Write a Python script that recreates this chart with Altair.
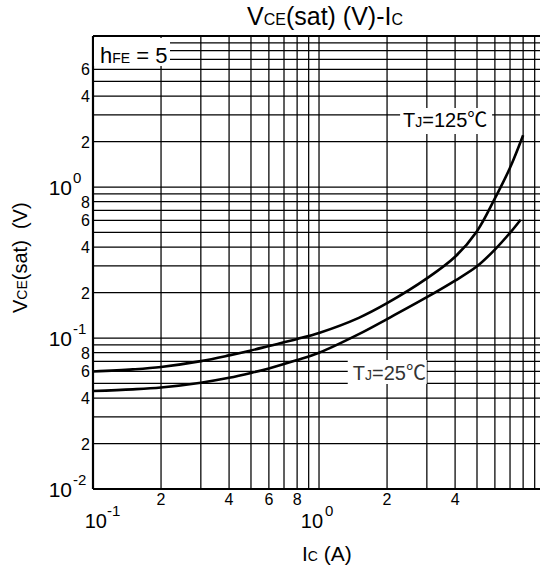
import altair as alt
import pandas as pd

# ---------------- data ----------------
ic_125 = [0.1, 0.15, 0.2, 0.3, 0.4, 0.5, 0.6, 0.8, 1.0, 1.5, 2.0, 3.0, 4.0, 5.0, 6.0, 7.0, 8.0]
vce_125 = [0.060, 0.062, 0.0643, 0.0703, 0.0767, 0.0827, 0.0885, 0.0985, 0.108, 0.136, 0.170, 0.248, 0.345, 0.51, 0.84, 1.34, 2.2]
ic_25 = [0.1, 0.15, 0.2, 0.3, 0.4, 0.5, 0.6, 0.8, 1.0, 1.5, 2.0, 3.0, 4.0, 5.0, 6.0, 7.0, 7.8]
vce_25 = [0.0446, 0.0457, 0.0470, 0.0506, 0.0545, 0.0587, 0.0629, 0.0714, 0.0798, 0.106, 0.1334, 0.1862, 0.2398, 0.2984, 0.385, 0.497, 0.607]

x_grid = [0.1, 0.2, 0.3, 0.4, 0.5, 0.6, 0.7, 0.8, 0.9, 1, 2, 3, 4, 5, 6, 7, 8, 9]
y_grid = [0.01, 0.02, 0.03, 0.04, 0.05, 0.06, 0.07, 0.08, 0.09,
          0.1, 0.2, 0.3, 0.4, 0.5, 0.6, 0.7, 0.8, 0.9,
          1, 2, 3, 4, 5, 6, 7, 8, 9]
frame_top = [10]
x_minor_labels = [0.2, 0.4, 0.6, 0.8, 2, 4]
x_minor_text = ["2", "4", "6", "8", "2", "4"]
y_minor_labels = [0.02, 0.04, 0.06, 0.08, 0.2, 0.4, 0.6, 0.8, 2, 4, 6]
y_minor_text = ["2", "4", "6", "8", "2", "4", "6", "8", "2", "4", "6"]
x_decades = [0.1, 1]
x_decade_sup = ["-1", "0"]
y_decades = [0.01, 0.1, 1]
y_decade_sup = ["-2", "-1", "0"]

label_125 = {"x": 2.355, "y": 2.5}
label_25 = {"x": 1.41, "y": 0.0527}

X_DOMAIN = [0.1, 9.5]
Y_DOMAIN = [0.01, 10]

# ---------------- styling helpers ----------------
FONT = "Liberation Sans"
CJK = "Noto Sans CJK SC"
AW = {'V': 0.667, 'C': 0.722, 'E': 0.667, '(': 0.333, ')': 0.333, 's': 0.5, 'a': 0.556,
      't': 0.278, ' ': 0.278, '-': 0.333, 'I': 0.278, 'A': 0.667, 'T': 0.611, 'J': 0.5,
      '=': 0.584, '1': 0.556, '2': 0.556, '5': 0.556, 'h': 0.556, 'F': 0.611, '0': 0.556}


def tw(s, size):
    return sum(AW.get(c, 0.556) for c in s) * size


xs = alt.Scale(type="log", domain=X_DOMAIN, nice=False)
ys = alt.Scale(type="log", domain=Y_DOMAIN, nice=False)

one = pd.DataFrame({"a": [0]})

layers = []

# grid + frame
xg = alt.Chart(pd.DataFrame({"x": x_grid})).mark_rule(color="black", strokeWidth=1.25).encode(
    x=alt.X("x:Q", scale=xs, axis=None))
yg = alt.Chart(pd.DataFrame({"y": y_grid})).mark_rule(color="black", strokeWidth=1.25).encode(
    y=alt.Y("y:Q", scale=ys, axis=None))
frame_l = alt.Chart(pd.DataFrame({"x": [X_DOMAIN[0]]})).mark_rule(color="black", strokeWidth=2.2).encode(
    x=alt.X("x:Q", scale=xs, axis=None))
frame_tb = alt.Chart(pd.DataFrame({"y": frame_top + [Y_DOMAIN[0]]})).mark_rule(color="black", strokeWidth=2.2).encode(
    y=alt.Y("y:Q", scale=ys, axis=None))
layers += [xg, yg, frame_l, frame_tb]

# curves
curves = pd.DataFrame({
    "Ic": ic_125 + ic_25,
    "Vce": vce_125 + vce_25,
    "Tj": ["125"] * len(ic_125) + ["25"] * len(ic_25),
})
line = alt.Chart(curves).mark_line(color="black", strokeWidth=2.6, interpolate="catmull-rom").encode(
    x=alt.X("Ic:Q", scale=xs, axis=None),
    y=alt.Y("Vce:Q", scale=ys, axis=None),
    detail="Tj:N")
layers.append(line)

# minor tick labels
layers.append(alt.Chart(pd.DataFrame({"x": x_minor_labels, "t": x_minor_text})).mark_text(
    font=FONT, fontSize=16, color="black", align="center", baseline="top").encode(
    x=alt.X("x:Q", scale=xs, axis=None), y=alt.value(456), text="t:N"))
layers.append(alt.Chart(pd.DataFrame({"y": y_minor_labels, "t": y_minor_text})).mark_text(
    font=FONT, fontSize=16, color="black", align="right", baseline="middle", dy=1).encode(
    y=alt.Y("y:Q", scale=ys, axis=None), x=alt.value(-3), text="t:N"))


# label boxes (data anchored)
def box(anchor, x0, x1, y0, y1):
    return alt.Chart(pd.DataFrame([anchor])).mark_rect(
        color="white", xOffset=x0, x2Offset=x1, yOffset=y0, y2Offset=y1).encode(
        x=alt.X("x:Q", scale=xs, axis=None), x2="x:Q",
        y=alt.Y("y:Q", scale=ys, axis=None), y2="y:Q")


layers.append(box(label_125, -3, 89, -19, 7))
layers.append(box(label_25, -5, 74, -20, 4))


def tj_label(anchor, value, color):
    out = []
    pieces = [("T", 20, FONT), ("J", 14, FONT), ("=" + value, 20, FONT), ("\u2103", 20, CJK)]
    dx = 0.0
    for txt, size, font in pieces:
        out.append(alt.Chart(pd.DataFrame([anchor])).mark_text(
            text=txt, font=font, fontSize=size, color=color, align="left",
            baseline="alphabetic", dx=dx).encode(
            x=alt.X("x:Q", scale=xs, axis=None), y=alt.Y("y:Q", scale=ys, axis=None)))
        dx += tw(txt, size) if font == FONT else size
    return out


layers += tj_label(label_125, "125", "black")
layers += tj_label(label_25, "25", "#333333")

# hFE annotation box
layers.append(alt.Chart(one).mark_rect(color="white").encode(
    x=alt.value(1), x2=alt.value(77), y=alt.value(2), y2=alt.value(30)))


def rich(pieces, x0, y0, angle=0, color="black"):
    """pieces: (text, size); spaces are handled as advances (SVG collapses them)."""
    out = []
    pos = x0 if angle == 0 else y0
    for txt, size in pieces:
        words = txt.split(" ")
        for i, w in enumerate(words):
            if w:
                if angle == 0:
                    enc = dict(x=alt.value(pos), y=alt.value(y0))
                else:
                    enc = dict(x=alt.value(x0), y=alt.value(pos))
                out.append(alt.Chart(one).mark_text(
                    text=w, font=FONT, fontSize=size, color=color, align="left",
                    baseline="alphabetic", angle=angle).encode(**enc))
            adv = tw(w, size) + (tw(" ", size) if i < len(words) - 1 else 0)
            pos = pos + adv if angle == 0 else pos - adv
    return out


layers += rich([("h", 22), ("FE", 14), (" = 5", 22)], 7, 27)
# title
layers += rich([("V", 25), ("CE", 16), ("(sat) (V)-I", 25), ("C", 16)], 154, -11)
# x title
layers += rich([("I", 21), ("C", 14), (" (A)", 21)], 209, 525)
# y title
layers += rich([("V", 20), ("CE", 14), ("(sat)  (V)", 20)], -66, 277, angle=270)

# decade labels on x axis
x_dx = [14, 4]
x_sup_dx = [14, 6]
for v, s, d, sd in zip(x_decades, x_decade_sup, x_dx, x_sup_dx):
    df = pd.DataFrame({"x": [v]})
    layers.append(alt.Chart(df).mark_text(
        text="10", font=FONT, fontSize=20, color="black", align="right",
        baseline="alphabetic", dx=d).encode(
        x=alt.X("x:Q", scale=xs, axis=None), y=alt.value(492)))
    layers.append(alt.Chart(df).mark_text(
        text=s, font=FONT, fontSize=15, color="black", align="left",
        baseline="alphabetic", dx=sd).encode(
        x=alt.X("x:Q", scale=xs, axis=None), y=alt.value(480)))

# decade labels on y axis
ydec = pd.DataFrame({"y": y_decades, "sup": y_decade_sup})
layers.append(alt.Chart(ydec).mark_text(
    text="10", font=FONT, fontSize=21, color="black", align="right",
    baseline="middle", dy=2).encode(
    x=alt.value(-21), y=alt.Y("y:Q", scale=ys, axis=None)))
layers.append(alt.Chart(ydec).mark_text(
    font=FONT, fontSize=15, color="black", align="left",
    baseline="middle", dy=-9).encode(
    x=alt.value(-20), y=alt.Y("y:Q", scale=ys, axis=None), text="sup:N"))

chart = alt.layer(*layers).properties(
    width=447, height=453,
    autosize=alt.AutoSizeParams(type="none"),
    padding={"left": 93, "top": 36, "right": 1, "bottom": 79},
    background="white",
).configure_view(stroke=None)

chart.save("out.html", embed_options={"renderer": "svg", "actions": False})
